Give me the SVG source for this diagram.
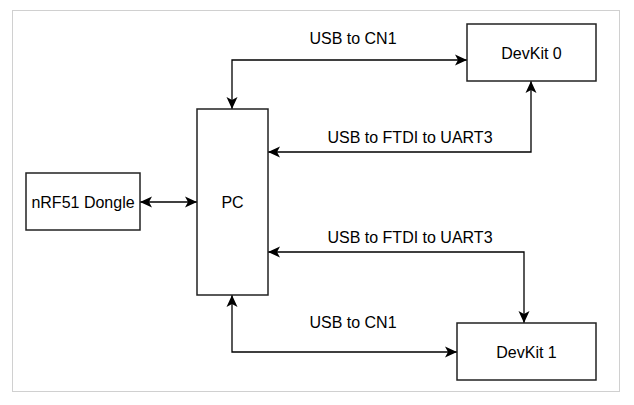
<svg xmlns="http://www.w3.org/2000/svg" width="634" height="405" viewBox="0 0 634 405">
<style>
.node{fill:#fff;stroke:#222;stroke-width:1.5}
.lbl{font-family:"Liberation Sans",Arial,sans-serif;font-size:16px;fill:#000;text-anchor:middle;dominant-baseline:central}
.edge{fill:none;stroke:#000;stroke-width:1.3}
</style>
<defs>
<marker id="arr" viewBox="0 0 12 12" refX="12" refY="6" markerWidth="12" markerHeight="12" markerUnits="userSpaceOnUse" orient="auto-start-reverse">
<path d="M0,0.5 L12,6 L0,11.5 L3,6 Z" fill="#000"/>
</marker>
</defs>
<rect x="12.5" y="10.5" width="607" height="381" fill="#fff" stroke="#d0d0d0" stroke-width="1"/>
<g id="connectors">
<path class="edge" d="M232,109 V60 H467" marker-start="url(#arr)" marker-end="url(#arr)"/>
<path class="edge" d="M268,152 H531 V81" marker-start="url(#arr)" marker-end="url(#arr)"/>
<path class="edge" d="M268,252 H524 V323" marker-start="url(#arr)" marker-end="url(#arr)"/>
<path class="edge" d="M232,295 V352 H457" marker-start="url(#arr)" marker-end="url(#arr)"/>
<path class="edge" d="M140,202 H197" marker-start="url(#arr)" marker-end="url(#arr)"/>
<text class="lbl" x="353" y="38">USB to CN1</text>
<text class="lbl" x="410" y="137">USB to FTDI to UART3</text>
<text class="lbl" x="410" y="237">USB to FTDI to UART3</text>
<text class="lbl" x="353" y="322">USB to CN1</text>
</g>
<g id="devkit0"><rect class="node" x="467" y="24" width="129" height="57"/><text class="lbl" x="531.5" y="53">DevKit 0</text></g>
<g id="pc"><rect class="node" x="197" y="109" width="71" height="186"/><text class="lbl" x="232.5" y="202">PC</text></g>
<g id="devkit1"><rect class="node" x="457" y="323" width="139" height="57"/><text class="lbl" x="526.5" y="352">DevKit 1</text></g>
<g id="dongle"><rect class="node" x="26" y="173" width="114" height="57"/><text class="lbl" x="83" y="202">nRF51 Dongle</text></g>
</svg>
